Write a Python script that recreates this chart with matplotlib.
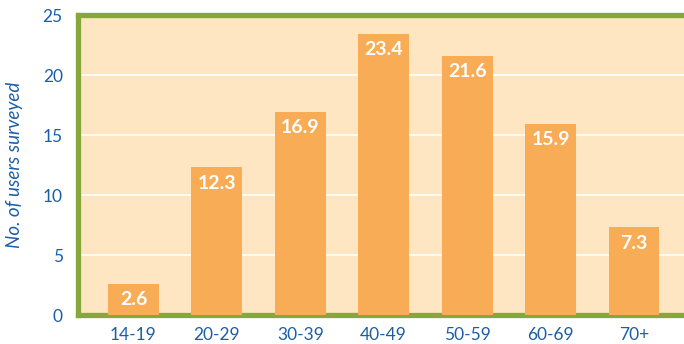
import matplotlib
matplotlib.use('Agg')
import matplotlib.pyplot as plt

age_groups = ['14-19', '20-29', '30-39', '40-49', '50-59', '60-69', '70+']
users = [2.6, 12.3, 16.9, 23.4, 21.6, 15.9, 7.3]
y_ticks = [0, 5, 10, 15, 20, 25]

blue = '#1c5ea6'
green = '#86a83a'
plt.rcParams['font.family'] = ['Lato', 'DejaVu Sans']

fig = plt.figure(figsize=(6.84, 3.44), dpi=100)
ax = fig.add_axes([78 / 684, 1 - 315 / 344, 1 - 78 / 684, 300 / 344])
ax.set_facecolor('#fde6c1')

x = range(len(age_groups))
ax.bar(x, users, width=0.61, color='#f8ac55', zorder=3)
for i, v in enumerate(users):
    ax.text(i, v - 0.6, f'{v}', ha='center', va='top', color='white',
            fontsize=14, fontweight='bold', zorder=4)

ax.set_xlim(-0.665, 6.6)
ax.set_ylim(0, 25)
ax.set_yticks(y_ticks)
ax.set_xticks(list(x))
ax.set_xticklabels(age_groups)
ax.yaxis.grid(True, color='white', linewidth=1.2, zorder=1)
ax.tick_params(length=0, labelcolor=blue, labelsize=12.5)
ax.tick_params(axis='x', pad=9)
ax.tick_params(axis='y', pad=11)

for side in ['left', 'top', 'bottom']:
    ax.spines[side].set_color(green)
    ax.spines[side].set_linewidth(3.8)
ax.spines['right'].set_visible(False)

ax.set_ylabel('No. of users surveyed', color=blue, fontsize=13.5, style='italic')
ax.yaxis.set_label_coords(-62 / 684, 0.5)

fig.savefig('out.png', dpi=100)
